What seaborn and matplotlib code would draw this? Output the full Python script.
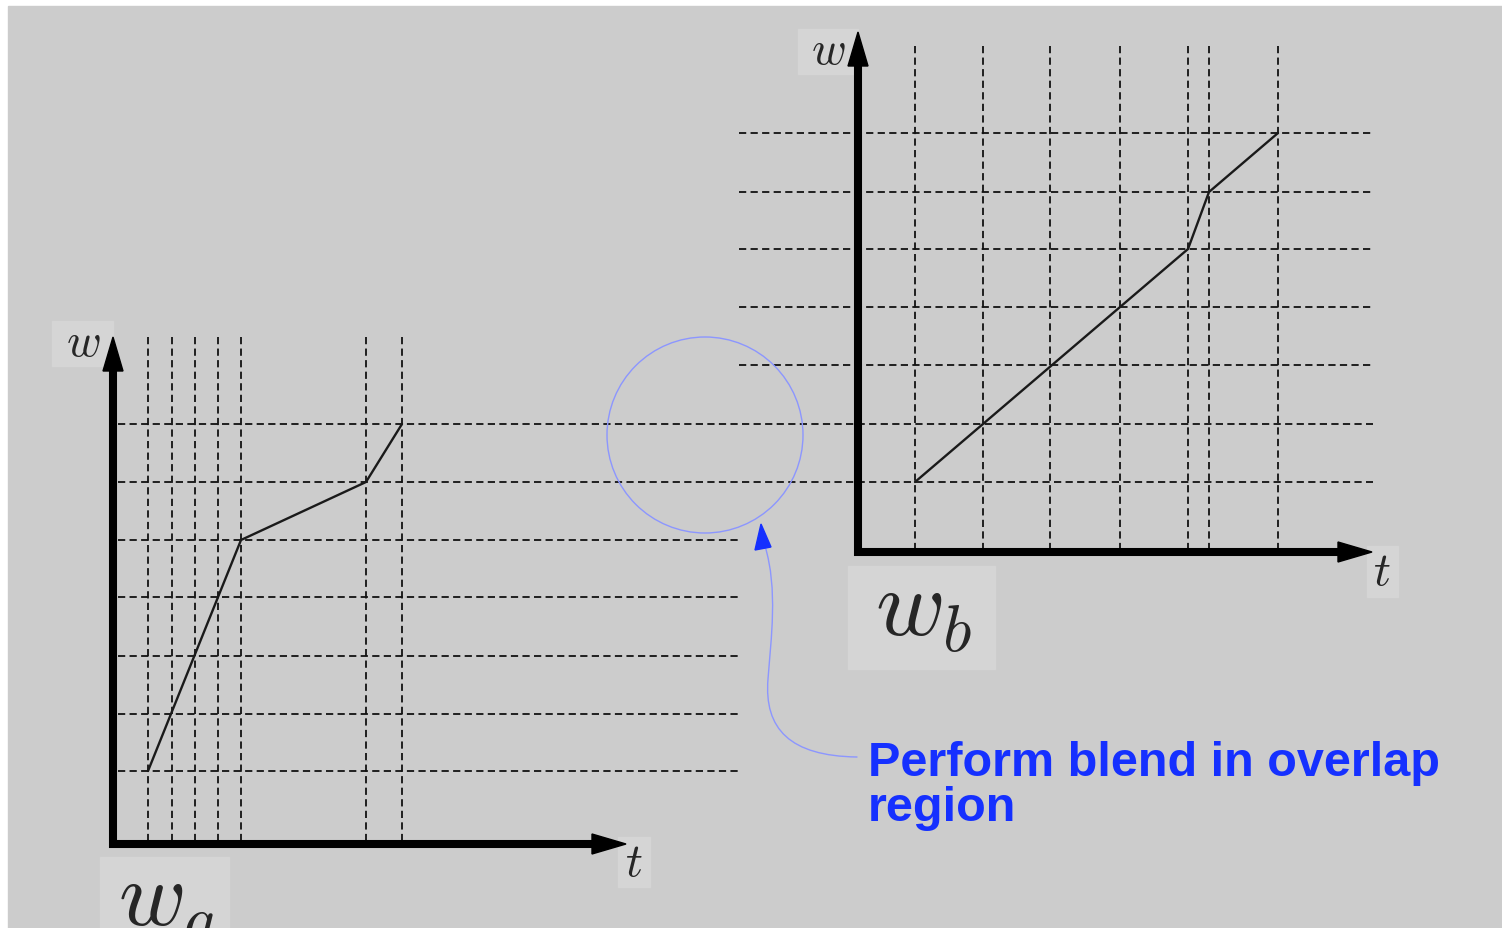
import numpy as np
import pandas as pd
import seaborn as sns
import matplotlib.pyplot as plt
from matplotlib.patches import Rectangle, Circle, Polygon, FancyArrowPatch
from matplotlib.path import Path

# Values (pixel positions on the canvas)
t_knots_a = [148, 172, 195, 218, 241, 366, 402]
t_knots_b = [915, 983, 1050, 1120, 1188, 1209, 1278]
w_levels = [772, 715, 657, 598, 541, 483, 425, 366, 308, 250, 193, 134]
# curve passes through knots (index into t_knots, index into w levels)
curve_t_idx = [0, 4, 5, 6]
curve_w_idx_a = [0, 4, 5, 6]
curve_w_idx_b = [5, 9, 10, 11]
label_text = "Perform blend in overlap\nregion"

sns.set_theme(style="white")
plt.rcParams["mathtext.fontset"] = "cm"
plt.rcParams["font.family"] = ["Liberation Sans", "DejaVu Sans"]

fig = plt.figure(figsize=(15.02, 9.29), dpi=100, facecolor="white")
ax = fig.add_axes([0, 0, 1, 1])

# grey slide background
ax.add_patch(Rectangle((8, 7), 1494, 922, color="#cccccc", zorder=0))

dash = dict(color="#111111", lw=1.3, linestyle=(0, (4.0, 2.4)), zorder=2)

# left chart grid
for t in t_knots_a:
    ax.plot([t, t], [338, 845], **dash)
for w in w_levels[:5]:
    ax.plot([118, 742], [w, w], **dash)
for w in w_levels[5:7]:
    ax.plot([118, 1373], [w, w], **dash)
# right chart grid
for t in t_knots_b:
    ax.plot([t, t], [47, 553], **dash)
for w in w_levels[7:]:
    ax.plot([739, 1373], [w, w], **dash)

# the two curves
df_a = pd.DataFrame({"t": [t_knots_a[i] for i in curve_t_idx],
                     "w": [w_levels[i] for i in curve_w_idx_a]})
df_b = pd.DataFrame({"t": [t_knots_b[i] for i in curve_t_idx],
                     "w": [w_levels[i] for i in curve_w_idx_b]})
sns.lineplot(data=df_a, x="t", y="w", ax=ax, color="#1a1a1a", lw=1.7,
             estimator=None, sort=False, zorder=3)
sns.lineplot(data=df_b, x="t", y="w", ax=ax, color="#1a1a1a", lw=1.7,
             estimator=None, sort=False, zorder=3)
ax.set_xlim(0, 1502)
ax.set_ylim(929, 0)
ax.axis("off")

# thick axes with arrow heads
def axis_arrow(x0, y0, x1, y1, head_len=34, half_w=10):
    d = np.array([x1 - x0, y1 - y0], dtype=float)
    u = d / np.hypot(*d)
    n = np.array([-u[1], u[0]])
    base = np.array([x1, y1]) - u * head_len
    ax.plot([x0, base[0]], [y0, base[1]], color="black", lw=5.8,
            solid_capstyle="butt", zorder=4)
    ax.add_patch(Polygon([[x1, y1], base + n * half_w, base - n * half_w],
                         closed=True, color="black", zorder=4))

axis_arrow(113, 849, 113, 338)
axis_arrow(109, 845, 626, 845)
axis_arrow(858, 557, 858, 33)
axis_arrow(854, 553, 1372, 553)

# label boxes
box_col = "#d5d5d5"
def label(x0, y0, x1, y1, s, tx, ty, size):
    ax.add_patch(Rectangle((x0, y0), x1 - x0, y1 - y0, color=box_col, zorder=1))
    ax.text(tx, ty, s, fontsize=size, ha="center", va="center", zorder=5)

label(52, 322, 113, 367, r"$w$", 83, 344, 34)
label(798, 30, 858, 75, r"$w$", 828, 52, 34)
label(618, 838, 650, 888, r"$t$", 634, 864, 34)
label(1367, 547, 1398, 598, r"$t$", 1382, 573, 34)

ax.add_patch(Rectangle((100, 858), 129, 80, color=box_col, zorder=1))
ax.text(118, 925, r"$w_a$", fontsize=66, ha="left", va="baseline", zorder=5)
ax.add_patch(Rectangle((848, 567), 147, 103, color=box_col, zorder=1))
ax.text(875, 636, r"$w_b$", fontsize=68, ha="left", va="baseline", zorder=5)

# overlap circle and pointer
ax.add_patch(Circle((705, 436), 98, fill=False, ec="#8c96ff", lw=1.0, zorder=3))
verts = [(857, 758), (790, 757), (764, 730), (768, 680),
         (771, 640), (778, 590), (765, 547)]
codes = [Path.MOVETO] + [Path.CURVE4] * 6
ax.add_patch(FancyArrowPatch(path=Path(verts, codes), arrowstyle="-",
                             color="#8c96ff", lw=1.0, zorder=3))
ax.add_patch(Polygon([[761, 525], [755, 551], [771, 548]], closed=True,
                     color="#1530ff", zorder=4))

ax.text(868, 821, label_text, fontsize=35, fontweight="bold", color="#1530ff",
        ha="left", va="baseline", linespacing=1.0, zorder=5)

fig.savefig("out.png", dpi=100, facecolor="white")
